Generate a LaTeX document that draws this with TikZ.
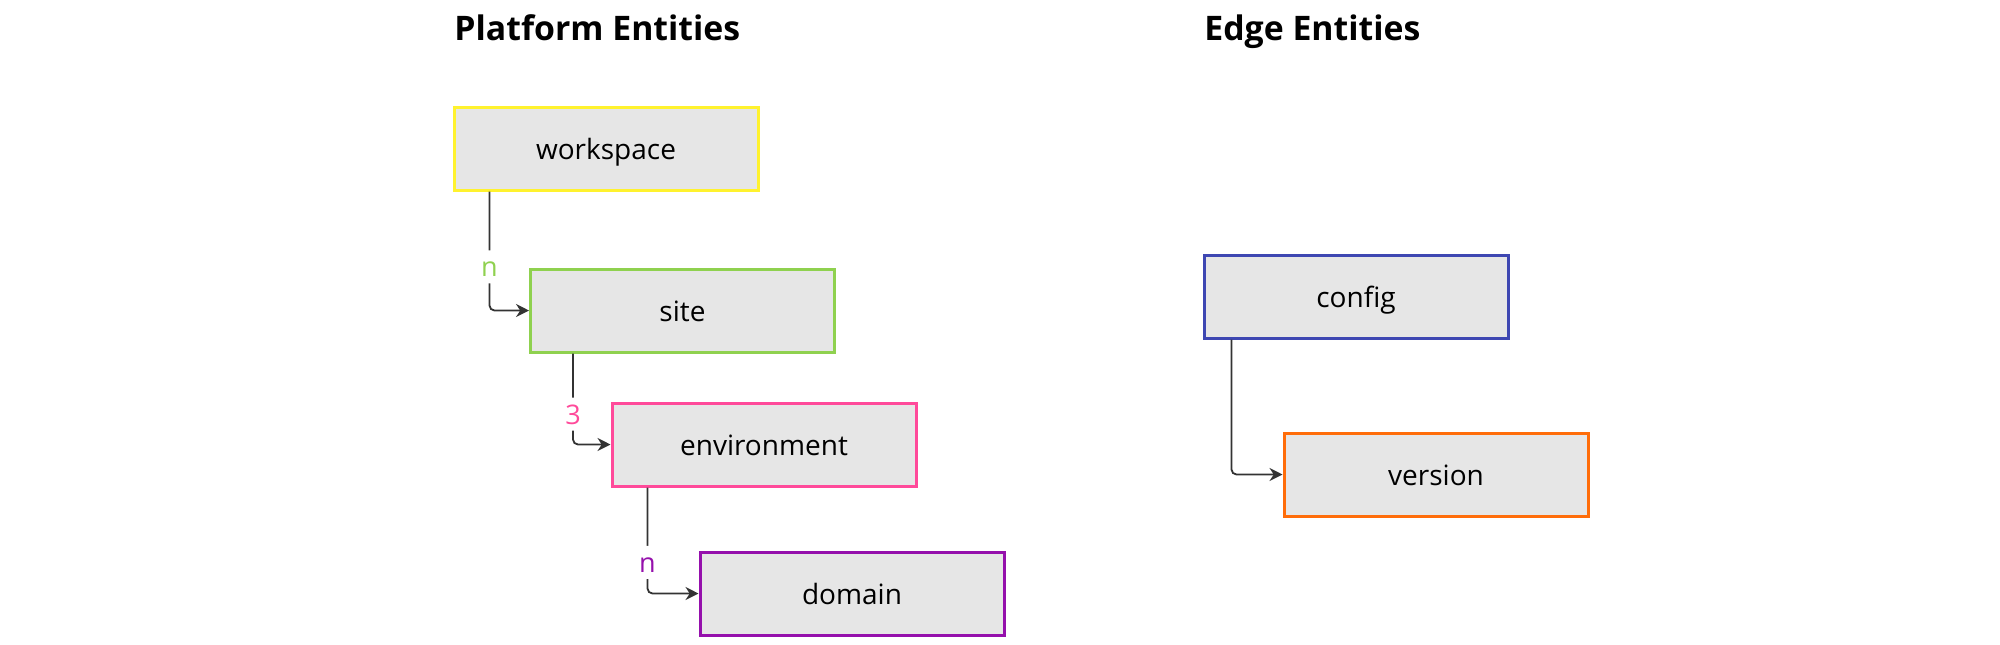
\documentclass[tikz,border=0pt]{standalone}
\usepackage{fontspec}
\setmainfont{Open Sans}
\usetikzlibrary{arrows.meta}
\definecolor{boxgray}{HTML}{E6E6E6}
\definecolor{linegray}{HTML}{333333}
\definecolor{wsyellow}{HTML}{FFF22E}
\definecolor{sitegreen}{HTML}{8FD14F}
\definecolor{envpink}{HTML}{FF4A9A}
\definecolor{dompurple}{HTML}{9510AC}
\definecolor{cfgblue}{HTML}{3E47B2}
\definecolor{verorange}{HTML}{FF6D0A}
\tikzstyle{ent} = [rectangle, draw, line width=1.5pt, fill=boxgray,
    minimum width=152pt, minimum height=41.5pt, text height=11pt, text depth=0pt,
    font=\fontsize{14}{17}\selectfont]
\tikzstyle{grp} = [anchor=base west, inner sep=0pt, font=\bfseries\fontsize{16.9}{20}\selectfont]
\tikzstyle{lnk} = [draw=linegray, line width=0.9pt, rounded corners=2.5pt,
    -{Stealth[length=6.5pt,width=6.5pt]}]
\tikzstyle{card} = [fill=white, inner xsep=2pt, inner ysep=3.25pt,
    text height=10pt, text depth=0pt, font=\fontsize{13.5}{15}\selectfont]

\begin{document}
\begin{tikzpicture}[x=0.5pt,y=-0.5pt]
  \useasboundingbox (0,0) rectangle (2000,644);
  % headings
  \node[grp] (plat) at (454,40) {Platform Entities};
  \node[grp] (edge) at (1204,40) {Edge Entities};

  % platform side
  \node[ent,draw=wsyellow] (ws)   at (606,148.5) {workspace};
  \node[ent,draw=sitegreen] (site) at (682.5,310.5) {site};
  \node[ent,draw=envpink] (env)  at (764,444.5) {environment};
  \node[ent,draw=dompurple] (dom)  at (852,593.5) {domain};

  % edge side
  \node[ent,draw=cfgblue] (cfg) at (1356,296.5) {config};
  \node[ent,draw=verorange] (ver) at (1436,474.5) {version};

  \path[lnk] ([xshift=18.5pt]ws.south west) |- node[card,pos=0.317,text=sitegreen] {n} (site.west);
  \path[lnk] ([xshift=22pt]site.south west) |- node[card,pos=0.333,text=envpink] {3} (env.west);
  \path[lnk] ([xshift=18.5pt]env.south west) |- node[card,pos=0.353,text=dompurple] {n} (dom.west);
  \path[lnk] ([xshift=14.5pt]cfg.south west) |- (ver.west);
\end{tikzpicture}
\end{document}
